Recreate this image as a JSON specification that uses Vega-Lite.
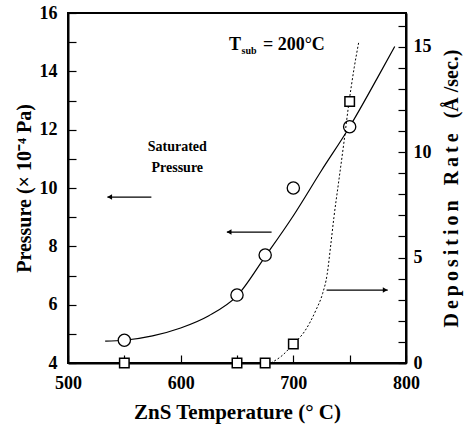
{
  "$schema": "https://vega.github.io/schema/vega-lite/v6.json",
  "width": 338,
  "height": 350,
  "autosize": "none",
  "padding": {"left": 68, "top": 13, "right": 61, "bottom": 63},
  "background": "white",
  "config": {
    "view": {"stroke": "black", "strokeWidth": 2},
    "font": "Liberation Serif",
    "axis": {
      "labelFont": "Liberation Serif",
      "labelFontWeight": "bold",
      "labelFontSize": 18,
      "labelColor": "black",
      "titleFont": "Liberation Serif",
      "titleFontWeight": "bold",
      "titleFontSize": 19,
      "titleColor": "black",
      "domainColor": "black",
      "domainWidth": 2,
      "tickColor": "black",
      "tickWidth": 1.2,
      "tickSize": -8,
      "grid": false,
      "labelOverlap": false,
      "labelFlush": false
    }
  },
  "datasets": {
    "pcurve": [
      {"x": 533, "p": 4.75}, {"x": 550, "p": 4.78}, {"x": 575, "p": 4.93}, {"x": 600, "p": 5.2},
      {"x": 625, "p": 5.62}, {"x": 650, "p": 6.3}, {"x": 675, "p": 7.65}, {"x": 700, "p": 9.05},
      {"x": 725, "p": 10.6}, {"x": 750, "p": 12.1}, {"x": 775, "p": 13.8}, {"x": 790, "p": 14.85}
    ],
    "ppts": [
      {"x": 550, "p": 4.78}, {"x": 650, "p": 6.33}, {"x": 675, "p": 7.7}, {"x": 700, "p": 10.0}, {"x": 750, "p": 12.1}
    ],
    "rcurve": [
      {"x": 680, "r": 0}, {"x": 690, "r": 0.35}, {"x": 700, "r": 0.9}, {"x": 710, "r": 1.5},
      {"x": 720, "r": 2.5}, {"x": 726, "r": 3.3}, {"x": 730, "r": 4.2}, {"x": 733, "r": 5.5},
      {"x": 736, "r": 6.9}, {"x": 740, "r": 8.5}, {"x": 745, "r": 10.5}, {"x": 749, "r": 12.2},
      {"x": 754, "r": 14.0}, {"x": 758, "r": 15.2}
    ],
    "rpts": [
      {"x": 550, "r": 0}, {"x": 650, "r": 0}, {"x": 675, "r": 0}, {"x": 700, "r": 0.9}, {"x": 750, "r": 12.4}
    ],
    "arrows": [
      {"x": 535, "x2": 574, "p": 9.69},
      {"x": 641, "x2": 680.7, "p": 8.49},
      {"x": 729.5, "x2": 783.8, "p": 6.5}
    ],
    "heads": [
      {"x": 537, "p": 9.69, "dir": "left"},
      {"x": 643, "p": 8.49, "dir": "left"},
      {"x": 781.5, "p": 6.5, "dir": "right"}
    ],
    "notes": [
      {"x": 597, "p": 11.4, "text": "Saturated"},
      {"x": 597, "p": 10.68, "text": "Pressure"}
    ],
    "tlabel": [
      {"x": 643, "p": 14.9, "text": "T"},
      {"x": 673, "p": 14.9, "text": "= 200°C"}
    ],
    "tsub": [
      {"x": 654, "p": 14.7, "text": "sub"}
    ]
  },
  "encoding": {
    "x": {
      "field": "x",
      "type": "quantitative",
      "scale": {"domain": [500, 800], "nice": false, "zero": false},
      "axis": {
        "values": [500, 550, 600, 650, 700, 750, 800],
        "labelExpr": "datum.value % 100 == 0 ? datum.label : ''",
        "labelPadding": 19,
        "title": "ZnS Temperature (° C)",
        "titlePadding": 9,
        "titleFontSize": 21
      }
    }
  },
  "layer": [
    {
      "encoding": {
        "y": {
          "field": "p",
          "type": "quantitative",
          "scale": {"domain": [4, 16], "nice": false, "zero": false},
          "axis": {
            "orient": "left",
            "values": [4, 5, 6, 7, 8, 9, 10, 11, 12, 13, 14, 15, 16],
            "labelExpr": "datum.value % 2 == 0 ? datum.label : ''",
            "labelPadding": 19,
            "title": "Pressure (× 10⁻⁴ Pa)",
            "titlePadding": 5,
            "titleFontSize": 20
          }
        }
      },
      "layer": [
        {"data": {"name": "pcurve"}, "mark": {"type": "line", "interpolate": "monotone", "color": "black", "strokeWidth": 1.2}},
        {"data": {"name": "arrows"}, "mark": {"type": "rule", "color": "black", "strokeWidth": 1.2}, "encoding": {"x2": {"field": "x2"}}},
        {
          "data": {"name": "heads"},
          "mark": {"type": "point", "filled": true, "color": "black", "size": 30, "opacity": 1},
          "encoding": {"shape": {"field": "dir", "type": "nominal", "scale": {"domain": ["left", "right"], "range": ["triangle-left", "triangle-right"]}, "legend": null}}
        },
        {"data": {"name": "ppts"}, "mark": {"type": "point", "shape": "circle", "size": 150, "filled": true, "fill": "white", "stroke": "black", "strokeWidth": 1.3, "opacity": 1}},
        {"data": {"name": "notes"}, "mark": {"type": "text", "font": "Liberation Serif", "fontWeight": "bold", "fontSize": 14, "align": "center", "baseline": "middle", "color": "black"}, "encoding": {"text": {"field": "text"}}},
        {"data": {"name": "tlabel"}, "mark": {"type": "text", "font": "Liberation Serif", "fontWeight": "bold", "fontSize": 18, "align": "left", "baseline": "middle", "color": "black"}, "encoding": {"text": {"field": "text"}}},
        {"data": {"name": "tsub"}, "mark": {"type": "text", "font": "Liberation Serif", "fontWeight": "bold", "fontSize": 10, "align": "left", "baseline": "middle", "color": "black"}, "encoding": {"text": {"field": "text"}}}
      ]
    },
    {
      "encoding": {
        "y": {
          "field": "r",
          "type": "quantitative",
          "scale": {"domain": [0, 16.6], "nice": false},
          "axis": {
            "orient": "right",
            "values": [0, 1, 2, 3, 4, 5, 6, 7, 8, 9, 10, 11, 12, 13, 14, 15, 16],
            "labelExpr": "datum.value % 5 == 0 ? datum.label : ''",
            "labelPadding": 15,
            "title": "D\u2009e\u2009p\u2009o\u2009s\u2009i\u2009t\u2009i\u2009o\u2009n\u00a0\u00a0\u00a0R\u2009a\u2009t\u2009e\u00a0\u00a0\u00a0(Å\u00a0/sec.)",
            "titleAngle": 270,
            "titleBaseline": "top",
            "titlePadding": 10,
            "titleFontSize": 20
          }
        }
      },
      "layer": [
        {"data": {"name": "rcurve"}, "mark": {"type": "line", "interpolate": "monotone", "color": "black", "strokeWidth": 1, "strokeDash": [2, 2]}},
        {"data": {"name": "rpts"}, "mark": {"type": "point", "shape": "square", "size": 90, "filled": true, "fill": "white", "stroke": "black", "strokeWidth": 1.5, "opacity": 1}}
      ]
    }
  ],
  "resolve": {"scale": {"y": "independent", "shape": "independent"}, "axis": {"y": "independent"}}
}
